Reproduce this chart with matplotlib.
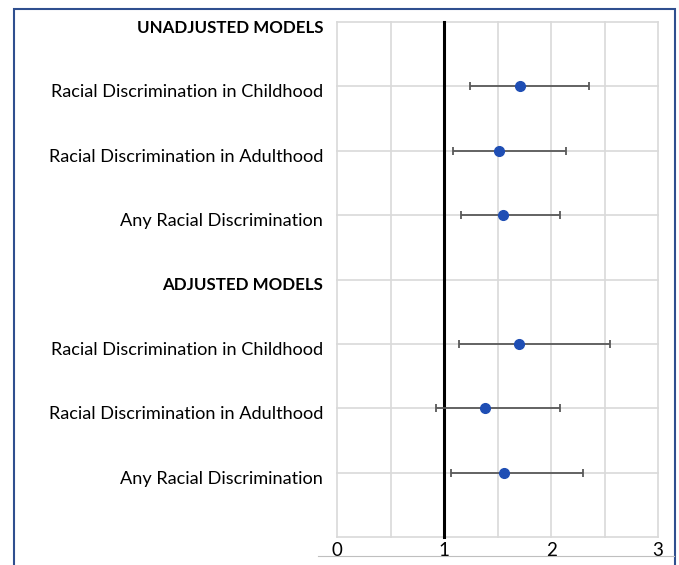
import matplotlib
matplotlib.use("Agg")
import matplotlib.pyplot as plt
import matplotlib.transforms as mtransforms
from matplotlib.patches import Rectangle
from matplotlib.lines import Line2D

labels = ["UNADJUSTED MODELS",
          "Racial Discrimination in Childhood",
          "Racial Discrimination in Adulthood",
          "Any Racial Discrimination",
          "ADJUSTED MODELS",
          "Racial Discrimination in Childhood",
          "Racial Discrimination in Adulthood",
          "Any Racial Discrimination"]
label_bold = [True, False, False, False, True, False, False, False]
label_pos = [8, 7, 6, 5, 4, 3, 2, 1]

est_pos = [7, 6, 5, 3, 2, 1]
estimate = [1.71, 1.51, 1.55, 1.70, 1.38, 1.56]
lower = [1.24, 1.08, 1.16, 1.14, 0.92, 1.06]
upper = [2.35, 2.14, 2.08, 2.55, 2.08, 2.30]

xticks = [0, 1, 2, 3]

W, H = 679, 565
fig = plt.figure(figsize=(W / 100, H / 100), dpi=100)
plt.rcParams['font.family'] = ['Lato', 'DejaVu Sans']

ax = fig.add_axes([337.3 / W, 1 - 537 / H, (658 - 337.3) / W, (537 - 22) / H])
ax.set_xlim(0, 3)
ax.set_ylim(0, 8)

grid_c = '#d9d9d9'
for gx in [0, 0.5, 1, 1.5, 2, 2.5, 3]:
    ax.axvline(gx, color=grid_c, lw=1.2, zorder=0, clip_on=False)
for gy in range(0, 9):
    ax.axhline(gy, color=grid_c, lw=1.2, zorder=0, clip_on=False)
ax.axvline(1, color='black', lw=2.2, zorder=1, clip_on=False)

xerr = [[e - l for e, l in zip(estimate, lower)], [u - e for e, u in zip(estimate, upper)]]
ax.errorbar(estimate, est_pos, xerr=xerr, fmt='none', ecolor='#595959',
            elinewidth=1.3, capsize=3, capthick=1.3, zorder=2)
ax.plot(estimate, est_pos, 'o', color='#1f4eb4', markersize=7, zorder=3, linestyle='none')

for s in ax.spines.values():
    s.set_visible(False)
ax.set_xticks([])
ax.set_yticks([])

# y labels
off = mtransforms.offset_copy(ax.get_yaxis_transform(), fig=fig, x=-14, y=-6, units='dots')
for lab, b, p in zip(labels, label_bold, label_pos):
    ax.text(0, p, lab, transform=off, ha='right', va='center',
            fontsize=12.2 if b else 13.1,
            fontweight='bold' if b else 'normal', color='black', clip_on=False)

# x tick labels
offx = mtransforms.offset_copy(ax.get_xaxis_transform(), fig=fig, x=0, y=-14, units='dots')
for t in xticks:
    ax.text(t, 0, str(t), transform=offx, ha='center', va='center', fontsize=13.5,
            color='black', clip_on=False)

# page artifacts: outer blue frame and thin gray line
fig.add_artist(Rectangle((13.5 / W, -0.05), (675 - 13.5) / W, 1.05 - 8.5 / H,
                         transform=fig.transFigure, fill=False, edgecolor='#2f4f8f', lw=1.5))
fig.add_artist(Line2D([318 / W, 674 / W], [1 - 556 / H, 1 - 556 / H],
                      transform=fig.transFigure, color='#bfbfbf', lw=0.8))

fig.savefig('out.png', dpi=100)
